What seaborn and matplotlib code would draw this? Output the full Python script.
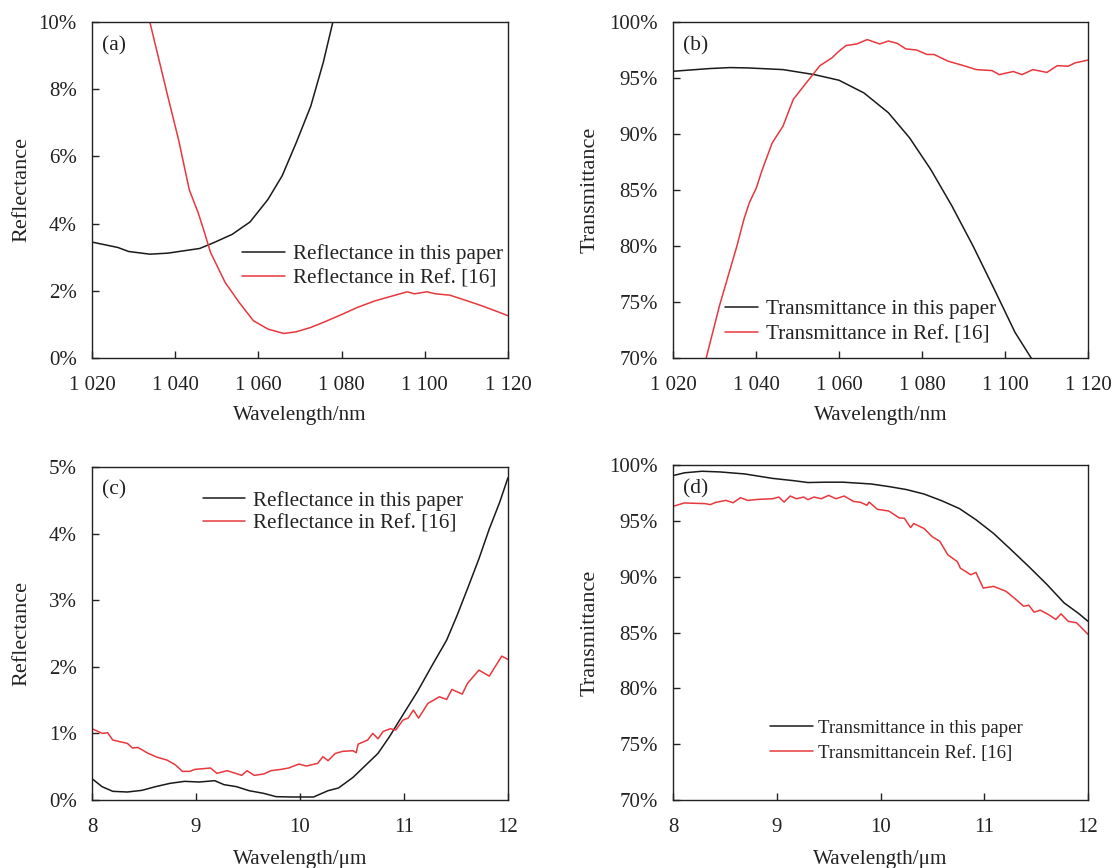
import numpy as np
import pandas as pd
import matplotlib
matplotlib.use("Agg")
import matplotlib.pyplot as plt
import seaborn as sns
from matplotlib.ticker import FixedLocator, FuncFormatter

# ---------------- data ----------------
# (a) reflectance, 1020-1120 nm (values in %)
a_black_x = [1020, 1026.2, 1028.8, 1033.9, 1038.2, 1045.9, 1049.4, 1053.7, 1058, 1062.3,
             1065.7, 1069.1, 1072.6, 1075.6, 1077.9, 1080]
a_black_y = [3.45, 3.29, 3.17, 3.09, 3.12, 3.26, 3.44, 3.68, 4.05, 4.72,
             5.42, 6.41, 7.5, 8.8, 10.0, 11.2]
a_red_x = [1032, 1033.9, 1038.2, 1040.8, 1043.4, 1045.5, 1046.8, 1048.5, 1052, 1055.4,
           1058.8, 1062.3, 1066.1, 1069.1, 1072.6, 1076, 1080.3, 1083.7, 1088, 1092.3,
           1095.8, 1097.5, 1100.5, 1102.6, 1106, 1109.5, 1113.8, 1120]
a_red_y = [11.5, 10.0, 7.8, 6.5, 5.0, 4.33, 3.83, 3.14, 2.25, 1.65,
           1.11, 0.86, 0.73, 0.78, 0.91, 1.08, 1.31, 1.5, 1.7, 1.85,
           1.97, 1.91, 1.97, 1.91, 1.87, 1.73, 1.55, 1.26]

# (b) transmittance, 1020-1120 nm (values in %)
b_black_x = [1020, 1028.7, 1033.7, 1038, 1046.5, 1054.1, 1060, 1066, 1071.9, 1077,
             1082.1, 1087.2, 1092.3, 1097.4, 1102.4, 1106.3, 1108]
b_black_y = [95.6, 95.84, 95.93, 95.9, 95.75, 95.3, 94.8, 93.67, 91.9, 89.66,
             86.84, 83.58, 80.0, 76.15, 72.3, 70.0, 69.2]
b_red_x = [1027, 1028, 1031.2, 1035.4, 1037.1, 1038.4, 1040.1, 1041.4, 1043.9, 1046.5,
           1049, 1052.4, 1055.4, 1058.3, 1060, 1061.7, 1064.3, 1066.8, 1069.8, 1071.9,
           1074, 1076.1, 1078.7, 1081.2, 1082.9, 1086.3, 1089.7, 1093.1, 1096.9, 1098.6,
           1102, 1104.1, 1106.7, 1110.1, 1112.6, 1115.2, 1116.9, 1120]
b_red_y = [67.0, 70.0, 74.67, 80.0, 82.4, 83.87, 85.2, 86.7, 89.2, 90.7,
           93.1, 94.7, 96.1, 96.8, 97.4, 97.9, 98.04, 98.43, 98.04, 98.3,
           98.1, 97.6, 97.5, 97.1, 97.1, 96.5, 96.14, 95.75, 95.66, 95.3,
           95.58, 95.3, 95.75, 95.5, 96.1, 96.05, 96.35, 96.6]

# (c) reflectance, 8-12 um (values in %)
c_black_x = [8.0, 8.097, 8.2, 8.34, 8.48, 8.61, 8.75, 8.89, 9.03, 9.18,
             9.27, 9.39, 9.51, 9.65, 9.77, 9.92, 10.13, 10.27, 10.37, 10.51,
             10.65, 10.75, 10.86, 10.99, 11.13, 11.27, 11.41, 11.51, 11.61, 11.72,
             11.82, 11.92, 12.0]
c_black_y = [0.32, 0.2, 0.13, 0.12, 0.145, 0.2, 0.25, 0.28, 0.27, 0.29,
             0.23, 0.2, 0.14, 0.1, 0.05, 0.045, 0.045, 0.14, 0.18, 0.34,
             0.55, 0.7, 0.95, 1.28, 1.63, 2.02, 2.4, 2.77, 3.17, 3.62,
             4.07, 4.47, 4.84]
c_red_x = [8.0, 8.1, 8.15, 8.2, 8.34, 8.39, 8.44, 8.54, 8.63, 8.72,
           8.8, 8.87, 8.94, 8.99, 9.14, 9.2, 9.3, 9.44, 9.49, 9.56,
           9.65, 9.72, 9.82, 9.89, 9.99, 10.06, 10.17, 10.22, 10.27, 10.34,
           10.41, 10.51, 10.54, 10.56, 10.65, 10.7, 10.75, 10.8, 10.87, 10.92,
           10.99, 11.04, 11.09, 11.14, 11.23, 11.34, 11.41, 11.46, 11.56, 11.61,
           11.72, 11.82, 11.94, 12.0]
c_red_y = [1.07, 1.0, 1.01, 0.9, 0.85, 0.78, 0.79, 0.7, 0.64, 0.6,
           0.53, 0.43, 0.43, 0.46, 0.48, 0.40, 0.44, 0.37, 0.44, 0.37,
           0.39, 0.44, 0.46, 0.48, 0.54, 0.51, 0.55, 0.65, 0.59, 0.7,
           0.73, 0.74, 0.71, 0.84, 0.9, 1.0, 0.92, 1.03, 1.07, 1.05,
           1.2, 1.23, 1.35, 1.23, 1.45, 1.55, 1.51, 1.66, 1.59, 1.75,
           1.95, 1.86, 2.16, 2.11]

# (d) transmittance, 8-12 um (values in %)
d_black_x = [8.0, 8.11, 8.28, 8.45, 8.69, 8.96, 9.16, 9.3, 9.47, 9.64,
             9.91, 10.08, 10.25, 10.42, 10.59, 10.76, 10.92, 11.09, 11.26, 11.43,
             11.6, 11.77, 11.91, 12.0]
d_black_y = [99.05, 99.3, 99.44, 99.38, 99.2, 98.8, 98.6, 98.43, 98.46, 98.46,
             98.3, 98.07, 97.8, 97.4, 96.8, 96.1, 95.1, 93.87, 92.4, 90.9,
             89.34, 87.65, 86.7, 86.0]
d_red_x = [8.0, 8.11, 8.31, 8.36, 8.41, 8.51, 8.58, 8.65, 8.72, 8.82,
           8.96, 9.02, 9.07, 9.13, 9.19, 9.26, 9.3, 9.36, 9.43, 9.5,
           9.57, 9.65, 9.74, 9.81, 9.87, 9.89, 9.97, 10.08, 10.18, 10.23,
           10.29, 10.32, 10.42, 10.5, 10.57, 10.65, 10.74, 10.77, 10.87, 10.92,
           10.99, 11.09, 11.21, 11.3, 11.38, 11.43, 11.48, 11.54, 11.62, 11.69,
           11.74, 11.81, 11.89, 12.0]
d_red_y = [96.3, 96.6, 96.54, 96.45, 96.65, 96.83, 96.62, 97.07, 96.83, 96.92,
           96.98, 97.13, 96.68, 97.22, 96.98, 97.13, 96.9, 97.13, 96.98, 97.28,
           96.98, 97.22, 96.74, 96.65, 96.39, 96.68, 96.03, 95.88, 95.26, 95.23,
           94.4, 94.76, 94.31, 93.57, 93.18, 91.95, 91.35, 90.76, 90.17, 90.38,
           88.98, 89.13, 88.69, 88.0, 87.35, 87.44, 86.82, 87.0, 86.6, 86.17,
           86.67, 86.0, 85.87, 84.84]

nm_ticks = [1020, 1040, 1060, 1080, 1100, 1120]
nm_tick_labels = ["1 020", "1 040", "1 060", "1 080", "1 100", "1 120"]
um_ticks = [8, 9, 10, 11, 12]
um_tick_labels = ["8", "9", "10", "11", "12"]

labels_a = ["Reflectance in this paper", "Reflectance in Ref. [16]"]
labels_b = ["Transmittance in this paper", "Transmittance in Ref. [16]"]
labels_c = ["Reflectance in this paper", "Reflectance in Ref. [16]"]
labels_d = ["Transmittance in this paper", "Transmittancein Ref. [16]"]

# ---------------- style ----------------
sns.set_theme(style="ticks")
plt.rcParams["font.family"] = ["Liberation Serif", "DejaVu Serif"]

BLACK = "#1a1a1a"
RED = "#e8383d"
TXT = "#222222"

fig = plt.figure(figsize=(11.13, 8.68), dpi=100)
W, H = 1113, 868

def ax_at(l, t, r, b):
    return fig.add_axes([l / W, 1 - b / H, (r - l) / W, (b - t) / H])

axA = ax_at(92, 22, 508, 358)
axB = ax_at(673, 22, 1088, 358)
axC = ax_at(92, 467, 508, 800)
axD = ax_at(673, 465, 1088, 800)

def draw(ax, bx, by, rx, ry, labels, xlim, ylim, yticks, xticks, xticklabels,
         xlabel, ylabel, tag, leg_anchor, leg_fs, hlen, hpad, lspace,
         ylab_x, xlab_pad):
    df = pd.concat([
        pd.DataFrame({"x": bx, "y": by, "s": labels[0]}),
        pd.DataFrame({"x": rx, "y": ry, "s": labels[1]}),
    ])
    sns.lineplot(data=df, x="x", y="y", hue="s", palette=[BLACK, RED],
                 sort=False, estimator=None, linewidth=1.1, ax=ax)
    ax.set_xlim(*xlim)
    ax.set_ylim(*ylim)
    ax.xaxis.set_major_locator(FixedLocator(xticks))
    ax.set_xticklabels(xticklabels)
    ax.yaxis.set_major_locator(FixedLocator(yticks))
    ax.yaxis.set_major_formatter(FuncFormatter(lambda v, p: f"{v:.0f}%"))
    ax.tick_params(direction="in", length=5, width=1, labelsize=15, colors=TXT)
    ax.tick_params(axis="x", pad=13)
    ax.tick_params(axis="y", pad=11)
    for sp in ax.spines.values():
        sp.set_visible(True)
        sp.set_color(TXT)
        sp.set_linewidth(1.0)
    ax.set_xlabel(xlabel, fontsize=15.2, color=TXT, labelpad=xlab_pad)
    ax.set_ylabel(ylabel, fontsize=16, color=TXT)
    ax.yaxis.set_label_coords(ylab_x, 0.5)
    ax.text(0.025, 0.93, tag, transform=ax.transAxes, fontsize=15.5,
            color=TXT, va="center", ha="left")
    leg = ax.legend(loc="upper left", bbox_to_anchor=leg_anchor, frameon=False,
                    fontsize=leg_fs, handlelength=hlen, handletextpad=hpad,
                    labelspacing=lspace, borderaxespad=0.0, borderpad=0.0)
    for t in leg.get_texts():
        t.set_color(TXT)

draw(axA, a_black_x, a_black_y, a_red_x, a_red_y, labels_a, (1020, 1120), (0, 10),
     [0, 2, 4, 6, 8, 10], nm_ticks, nm_tick_labels, "Wavelength/nm", "Reflectance",
     "(a)", (0.36, 0.339), 15.2, 2.05, 0.38, 0.2, -0.146, 8)
draw(axB, b_black_x, b_black_y, b_red_x, b_red_y, labels_b, (1020, 1120), (70, 100),
     [70, 75, 80, 85, 90, 95, 100], nm_ticks, nm_tick_labels, "Wavelength/nm", "Transmittance",
     "(b)", (0.125, 0.175), 15.2, 1.56, 0.38, 0.25, -0.176, 8)
draw(axC, c_black_x, c_black_y, c_red_x, c_red_y, labels_c, (8, 12), (0, 5),
     [0, 1, 2, 3, 4, 5], um_ticks, um_tick_labels, "Wavelength/μm", "Reflectance",
     "(c)", (0.267, 0.929), 15.2, 2.0, 0.38, 0.15, -0.146, 9)
draw(axD, d_black_x, d_black_y, d_red_x, d_red_y, labels_d, (8, 12), (70, 100),
     [70, 75, 80, 85, 90, 95, 100], um_ticks, um_tick_labels, "Wavelength/μm", "Transmittance",
     "(d)", (0.234, 0.24), 13.5, 2.3, 0.27, 0.43, -0.176, 9)

fig.savefig("out.png", dpi=100)
